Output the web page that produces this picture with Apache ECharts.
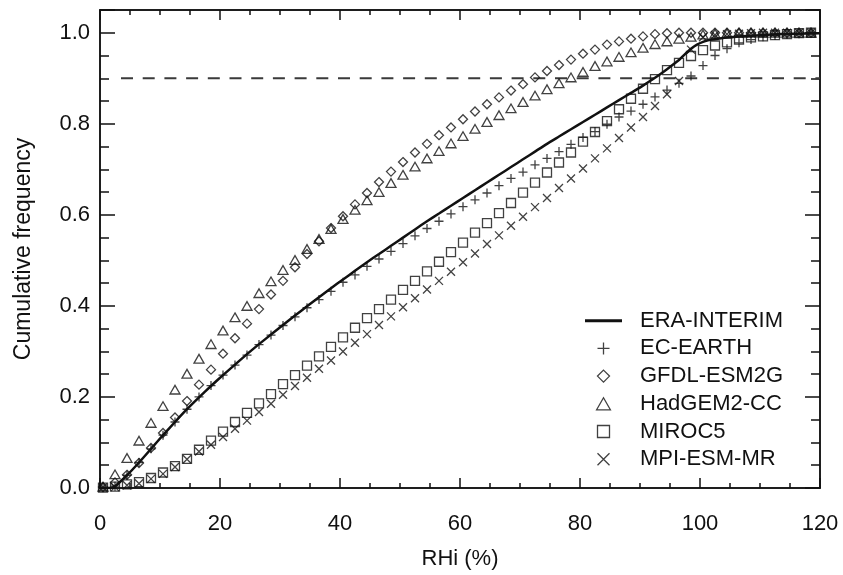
<!DOCTYPE html>
<html>
<head>
<meta charset="utf-8">
<script src="https://cdn.jsdelivr.net/npm/echarts@6/dist/echarts.min.js"></script>
<style>
html,body{margin:0;padding:0;background:#fff;}
#chart{width:843px;height:575px;}
</style>
</head>
<body>
<div id="chart"></div>
<script>
// RHi bin centres (%) shared by the model series
var rhi = [0.5,2.5,4.5,6.5,8.5,10.5,12.5,14.5,16.5,18.5,
  20.5,22.5,24.5,26.5,28.5,30.5,32.5,34.5,36.5,38.5,
  40.5,42.5,44.5,46.5,48.5,50.5,52.5,54.5,56.5,58.5,
  60.5,62.5,64.5,66.5,68.5,70.5,72.5,74.5,76.5,78.5,
  80.5,82.5,84.5,86.5,88.5,90.5,92.5,94.5,96.5,98.5,
  100.5,102.5,104.5,106.5,108.5,110.5,112.5,114.5,116.5,118.5];

var ecEarth = [0.001,0.004,0.028,0.056,0.086,0.116,0.145,0.173,0.200,0.225,
  0.248,0.270,0.292,0.315,0.336,0.357,0.376,0.396,0.414,0.432,
  0.452,0.468,0.487,0.503,0.520,0.537,0.554,0.570,0.586,0.602,
  0.618,0.633,0.648,0.664,0.680,0.694,0.710,0.724,0.739,0.755,
  0.770,0.783,0.799,0.815,0.828,0.843,0.859,0.874,0.889,0.905,
  0.928,0.950,0.965,0.978,0.985,0.991,0.994,0.996,0.998,0.999];

var gfdl = [0.002,0.012,0.029,0.055,0.088,0.121,0.155,0.191,0.227,0.260,
  0.295,0.329,0.361,0.393,0.425,0.455,0.485,0.514,0.542,0.571,
  0.597,0.623,0.648,0.672,0.695,0.716,0.737,0.756,0.775,0.792,
  0.810,0.827,0.843,0.858,0.873,0.887,0.902,0.916,0.929,0.941,
  0.954,0.963,0.974,0.981,0.987,0.992,0.997,0.999,1.000,1.000,
  1.000,1.000,1.000,1.000,1.000,1.000,1.000,1.000,1.000,1.000];

var hadgem = [0.003,0.030,0.066,0.104,0.143,0.180,0.216,0.251,0.284,0.316,
  0.346,0.375,0.400,0.428,0.454,0.479,0.501,0.525,0.547,0.569,
  0.591,0.611,0.632,0.650,0.670,0.688,0.706,0.724,0.740,0.757,
  0.773,0.789,0.804,0.819,0.834,0.848,0.862,0.876,0.889,0.902,
  0.914,0.927,0.937,0.947,0.957,0.967,0.975,0.981,0.987,0.991,
  0.996,0.998,0.999,1.000,1.000,1.000,1.000,1.000,1.000,1.000];

var miroc = [0.001,0.003,0.008,0.013,0.022,0.034,0.048,0.064,0.084,0.104,
  0.124,0.145,0.165,0.186,0.206,0.228,0.248,0.269,0.289,0.310,
  0.331,0.352,0.373,0.393,0.414,0.435,0.455,0.476,0.497,0.518,
  0.539,0.561,0.582,0.604,0.626,0.649,0.671,0.693,0.715,0.737,
  0.761,0.782,0.806,0.832,0.855,0.877,0.898,0.918,0.934,0.949,
  0.962,0.972,0.979,0.985,0.990,0.992,0.995,0.997,0.999,1.000];

var mpi = [0.001,0.002,0.006,0.010,0.020,0.031,0.046,0.063,0.080,0.095,
  0.112,0.130,0.148,0.167,0.185,0.205,0.224,0.242,0.262,0.280,
  0.300,0.319,0.338,0.358,0.377,0.397,0.417,0.436,0.455,0.475,
  0.496,0.515,0.536,0.555,0.576,0.596,0.617,0.637,0.659,0.680,
  0.702,0.724,0.746,0.769,0.792,0.815,0.839,0.865,0.894,0.963,
  0.990,0.995,0.997,0.998,0.999,1.000,1.000,1.000,1.000,1.000];

// ERA-INTERIM curve
var eraX = [0,1.5,2.5,4.5,6.5,8.5,10.5,12.5,14.5,16.5,18.5,
  20.5,22.5,24.5,26.5,28.5,30.5,32.5,34.5,36.5,38.5,
  40.5,42.5,44.5,46.5,48.5,50.5,52.5,54.5,56.5,58.5,
  60.5,62.5,64.5,66.5,68.5,70.5,72.5,74.5,76.5,78.5,
  80.5,82.5,84.5,86.5,88.5,90.5,92.5,94.5,96.5,97.5,98.5,99.5,
  100.5,101.5,103,105,108,112,116,120];
var eraY = [0,0,0.004,0.028,0.056,0.086,0.116,0.145,0.173,0.199,0.224,
  0.248,0.271,0.294,0.316,0.337,0.358,0.379,0.399,0.419,0.439,
  0.458,0.477,0.496,0.514,0.532,0.550,0.568,0.586,0.603,0.620,
  0.637,0.654,0.671,0.688,0.705,0.722,0.739,0.756,0.772,0.788,
  0.804,0.820,0.836,0.852,0.868,0.884,0.901,0.920,0.940,0.953,0.965,0.974,
  0.980,0.984,0.987,0.990,0.993,0.996,0.998,0.999];

// 90% reference level (dashed)
var refX = [3.5, 120];
var refY = [0.9, 0.9];

var names = ['ERA-INTERIM','EC-EARTH','GFDL-ESM2G','HadGEM2-CC','MIROC5','MPI-ESM-MR'];
var xTicks = [0,20,40,60,80,100,120];
var yTicks = [0.0,0.2,0.4,0.6,0.8,1.0];

function pairs(xs, ys){ return xs.map(function(x,i){ return [x, ys[i]]; }); }

var FONT = 'Liberation Sans, Arial, Helvetica, sans-serif';
var BLK = '#111';

var SYM = {
  plus: 'path://M0,5L10,5M5,0L5,10',
  cross: 'path://M0,0L10,10M10,0L0,10',
  diamond: 'path://M5,0L10,5L5,10L0,5Z',
  triangle: 'path://M5,1.3L10,10L0,10Z',
  square: 'path://M0,0L10,0L10,10L0,10Z',
  bar: 'path://M0,0L37,0L37,3L0,3Z'
};

function markerSeries(name, ys, sym, size){
  return {
    name: name, type: 'scatter', data: pairs(rhi, ys),
    symbol: sym, symbolSize: size, symbolKeepAspect: true,
    itemStyle: { color: 'transparent', borderColor: BLK, borderWidth: 1.3 },
    emphasis: { disabled: true }, z: 3
  };
}

function xAx(pos, interval, len, labels, name){
  var a = {
    type: 'value', position: pos, min: 0, max: 120, interval: interval,
    axisLine: { show: true, onZero: false, lineStyle: { color: BLK, width: 1.5 } },
    axisTick: { show: true, inside: true, length: len, lineStyle: { color: BLK, width: 1.5 } },
    axisLabel: { show: labels, fontSize: 22, fontFamily: FONT, color: BLK, margin: 25 },
    splitLine: { show: false }
  };
  if (labels) {
    a.axisLabel.formatter = function(v){ return xTicks.indexOf(v) >= 0 ? String(v) : ''; };
  }
  if (name) {
    a.name = name; a.nameLocation = 'middle'; a.nameGap = 60;
    a.nameTextStyle = { fontSize: 22, fontFamily: FONT, color: BLK };
  }
  return a;
}
function yAx(pos, interval, len, labels, name){
  var a = {
    type: 'value', position: pos, min: 0, max: 1.05, interval: interval,
    axisLine: { show: true, onZero: false, lineStyle: { color: BLK, width: 1.5 } },
    axisTick: { show: true, inside: true, length: len, lineStyle: { color: BLK, width: 1.5 } },
    axisLabel: { show: labels, fontSize: 22, fontFamily: FONT, color: BLK, margin: 10,
      formatter: function(v){
        for (var i = 0; i < yTicks.length; i++) { if (Math.abs(v - yTicks[i]) < 1e-6) return yTicks[i].toFixed(1); }
        return '';
      } },
    splitLine: { show: false }
  };
  if (name) {
    a.name = name; a.nameLocation = 'middle'; a.nameGap = 65;
    a.nameTextStyle = { fontSize: 23, fontFamily: FONT, color: BLK };
  }
  return a;
}

var legendData = names.map(function(n, i){
  return i === 0 ? { name: n, icon: SYM.bar, itemStyle: { borderWidth: 0, color: BLK } } : { name: n };
});

var chart = echarts.init(document.getElementById('chart'), null, { renderer: 'canvas' });
chart.setOption({
  animation: false,
  backgroundColor: '#fff',
  grid: { left: 100, right: 23, top: 10, bottom: 86, containLabel: false },
  xAxis: [
    xAx('bottom', 20, 10, true, 'RHi (%)'),
    xAx('bottom', 5, 5, false),
    xAx('top', 20, 10, false),
    xAx('top', 5, 5, false)
  ],
  yAxis: [
    yAx('left', 0.2, 15, true, 'Cumulative frequency'),
    yAx('left', 0.05, 9, false),
    yAx('right', 0.2, 15, false),
    yAx('right', 0.05, 9, false)
  ],
  legend: {
    data: legendData, orient: 'vertical', left: 580, top: 304.7,
    itemWidth: 37, itemHeight: 12, itemGap: 5.7, padding: 5,
    selectedMode: false,
    itemStyle: { borderWidth: 1.3 },
    textStyle: { fontSize: 22, fontFamily: FONT, color: BLK, padding: [0,0,0,13] }
  },
  series: [
    {
      name: 'ERA-INTERIM', type: 'line', data: pairs(eraX, eraY),
      symbol: 'none', smooth: 0.2,
      lineStyle: { color: BLK, width: 2.5 }, itemStyle: { color: BLK },
      emphasis: { disabled: true }, z: 4
    },
    markerSeries('EC-EARTH', ecEarth, SYM.plus, 9),
    markerSeries('GFDL-ESM2G', gfdl, SYM.diamond, 9),
    markerSeries('HadGEM2-CC', hadgem, SYM.triangle, 10),
    markerSeries('MIROC5', miroc, SYM.square, 9),
    markerSeries('MPI-ESM-MR', mpi, SYM.cross, 8),
    {
      name: 'threshold', type: 'line', data: pairs(refX, refY),
      symbol: 'none', silent: true,
      lineStyle: { color: '#3a3a3a', width: 2, type: [12, 9.7] }, z: 2
    }
  ]
});
</script>
</body>
</html>
